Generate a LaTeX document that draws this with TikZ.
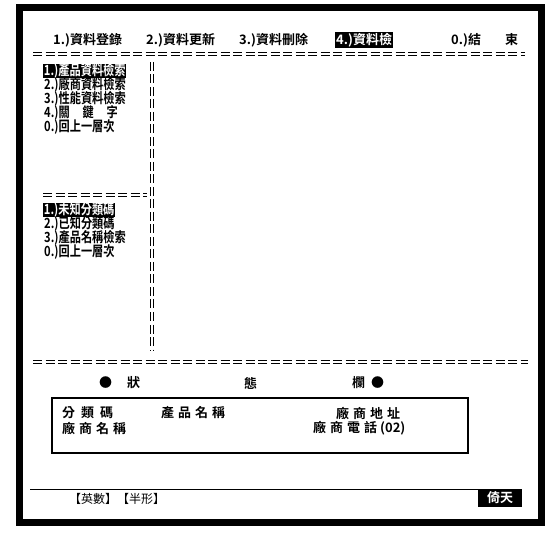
\documentclass[tikz,border=0pt]{standalone}
\usepackage{fontspec}
\newfontfamily\cjk{Noto Sans CJK TC}[BoldFont={* Bold}]
\tikzset{
  scr/.style={font=\cjk\bfseries\fontsize{13}{13}\selectfont, inner sep=1pt, anchor=west},
  sel/.style={scr, fill=black, text=white},
  sub/.style={scr, font=\cjk\bfseries\fontsize{14}{14}\selectfont, xscale=0.8, inner sep=0pt},
  subsel/.style={sub, fill=black, text=white, inner xsep=1pt},
  eqline/.style={line width=1.1pt, double distance=2pt, dash pattern=on 9pt off 3.5pt},
}
\begin{document}
\begin{tikzpicture}[x=1pt,y=-1pt]
  \useasboundingbox (0,0) rectangle (551,534);
  % screen frame
  \draw[line width=7pt] (19,8) rectangle (541,522);
  % top menu
  \node[scr] (m1) at (52,40) {1.)資料登錄};
  \node[scr] (m2) at (145,40) {2.)資料更新};
  \node[scr] (m3) at (238,40) {3.)資料刪除};
  \node[sel, minimum height=16pt] (m4) at (335,40) {4.)資料檢};
  \node[scr] (m0) at (450,40) {0.)結\hspace{24pt}束};
  \draw[eqline] (33,54) -- (525,54);
  % left menu
  \node[subsel] (a1) at (43,71) {1.)產品資料檢索};
  \node[sub] (a2) at (44,85) {2.)廠商資料檢索};
  \node[sub] (a3) at (44,99) {3.)性能資料檢索};
  \node[sub] (a4) at (44,113) {4.)關\hspace{16pt}鍵\hspace{16pt}字};
  \node[sub] (a0) at (44,127) {0.)回上一層次};
  \draw[eqline] (152,62) -- (152,350);
  \draw[eqline] (43,195) -- (147,195);
  \node[subsel] (b1) at (43,210) {1.)未知分類碼};
  \node[sub] (b2) at (44,224) {2.)已知分類碼};
  \node[sub] (b3) at (44,238) {3.)產品名稱檢索};
  \node[sub] (b0) at (44,252) {0.)回上一層次};
  \draw[eqline] (33,362) -- (528,362);
  % status bar
  \node[scr] (s1) at (98,383) {●};
  \node[scr] (s2) at (126,383) {狀};
  \node[scr] (s3) at (243,383) {態};
  \node[scr] (s4) at (351,383) {欄};
  \node[scr] (s5) at (370,383) {●};
  \draw[line width=1.5pt] (52,398) rectangle (468,453);
  \node[scr] (c1) at (61,413) {分\hspace{6pt}類\hspace{6pt}碼};
  \node[scr] (c2) at (160,413) {產\hspace{4pt}品\hspace{4pt}名\hspace{4pt}稱};
  \node[scr] (c3) at (335,413) {廠\hspace{4pt}商\hspace{4pt}地\hspace{4pt}址};
  \node[scr] (c4) at (61,428) {廠\hspace{4pt}商\hspace{4pt}名\hspace{4pt}稱};
  \node[scr] (c5) at (312,428) {廠\hspace{4pt}商\hspace{4pt}電\hspace{4pt}話\hspace{3pt}(02)};
  % bottom line
  \draw[line width=1pt] (30,489) -- (522,489);
  \node[scr, font=\cjk\fontsize{12}{12}\selectfont] (k1) at (68,499) {【英數】【半形】};
  \node[sel, minimum width=44pt, minimum height=17pt, anchor=center] (k2) at (500,498) {倚天};
\end{tikzpicture}
\end{document}
